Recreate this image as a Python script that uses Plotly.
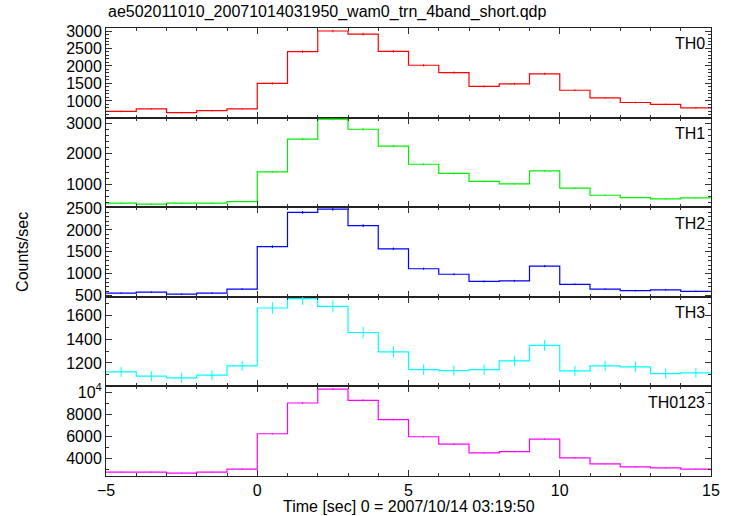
import plotly.graph_objects as go
from plotly.subplots import make_subplots

# bin edges and centers (seconds)
edges = list(range(-5, 16))
centers = [e + 0.5 for e in range(-5, 15)]

th0 = [700, 775, 665, 720, 775, 1500, 2410, 3000, 2910, 2420, 2020, 1810, 1415, 1490, 1775, 1305, 1090, 955, 900, 800]
th0_err = [22, 22, 22, 22, 22, 30, 35, 38, 38, 35, 32, 30, 28, 28, 30, 26, 24, 22, 22, 22]
th1 = [390, 360, 390, 390, 440, 1410, 2480, 3130, 2800, 2250, 1660, 1360, 1100, 1020, 1445, 880, 650, 575, 530, 565]
th1_err = [20, 20, 20, 20, 20, 28, 35, 40, 38, 34, 30, 28, 25, 25, 28, 22, 20, 20, 20, 20]
th2 = [560, 580, 535, 560, 650, 1620, 2400, 2475, 2100, 1570, 1115, 990, 825, 840, 1175, 760, 650, 615, 635, 600]
th2_err = [18, 18, 18, 18, 20, 30, 36, 36, 34, 30, 25, 24, 22, 22, 25, 20, 18, 18, 18, 18]
th3 = [1125, 1089, 1075, 1097, 1175, 1662, 1740, 1675, 1456, 1293, 1144, 1136, 1144, 1217, 1348, 1133, 1175, 1167, 1111, 1117]
th3_err = [42, 42, 42, 42, 43, 50, 52, 50, 48, 46, 43, 43, 43, 44, 46, 43, 43, 43, 42, 42]
th0123 = [2776, 2776, 2690, 2776, 3045, 6240, 9015, 10270, 9250, 7520, 5970, 5310, 4510, 4630, 5760, 4060, 3520, 3250, 3160, 3045]
th0123_err = [50, 50, 50, 50, 55, 75, 90, 95, 90, 80, 72, 68, 62, 62, 70, 60, 55, 52, 52, 50]

names = ["TH0", "TH1", "TH2", "TH3", "TH0123"]
series = [th0, th1, th2, th3, th0123]
errors = [th0_err, th1_err, th2_err, th3_err, th0123_err]
colors = ["#ff0000", "#00ee00", "#0000ff", "#00ffff", "#ff00ff"]

yranges = [[523, 3086], [260, 3180], [475, 2520], [1003, 1756], [2430, 10510]]
ydticks = [500, 1000, 500, 200, 2000]
yminor = [100, 200, 100, 100, 1000]

fig = make_subplots(rows=5, cols=1, shared_xaxes=True, vertical_spacing=0)

font_family = "Liberation Sans, Arial, Helvetica, sans-serif"

for i, (nm, y, err, col) in enumerate(zip(names, series, errors, colors)):
    r = i + 1
    fig.add_trace(go.Scatter(x=edges, y=y + [y[-1]], mode="lines", line_shape="hv",
                             line=dict(color=col, width=1.2), showlegend=False,
                             hoverinfo="skip"), row=r, col=1)
    fig.add_trace(go.Scatter(x=centers, y=y, mode="markers", marker=dict(size=1, color=col, opacity=0),
                             error_y=dict(type="data", array=err, color=col, thickness=1, width=0),
                             showlegend=False), row=r, col=1)
    yk = dict(range=yranges[i], dtick=ydticks[i], ticks="inside", ticklen=6, tickwidth=1,
              tickcolor="#333", showgrid=False, zeroline=False, showline=True, linecolor="#222",
              linewidth=1, mirror="allticks",
              minor=dict(dtick=yminor[i], ticks="inside", ticklen=3, tickcolor="#333"),
              tickfont=dict(size=16, family=font_family, color="#000"))
    if nm == "TH0123":
        yk.pop("dtick")
        yk["tickvals"] = [4000, 6000, 8000, 10000]
        yk["ticktext"] = ["4000", "6000", "8000", "10<sup>4</sup>"]
    fig.update_yaxes(row=r, col=1, **yk)
    fig.update_xaxes(row=r, col=1, range=[-5, 15], dtick=5, ticks="inside", ticklen=6,
                     tickcolor="#333", showgrid=False, zeroline=False, showline=True,
                     linecolor="#222", linewidth=1, mirror="allticks",
                     minor=dict(dtick=1, ticks="inside", ticklen=3, tickcolor="#333"),
                     tickfont=dict(size=16, family=font_family, color="#000"))
    ytop = 1 - i * 0.2
    fig.add_annotation(text=nm, xref="paper", yref="paper", x=0.993, y=ytop - 0.012,
                       xanchor="right", yanchor="top", showarrow=False,
                       font=dict(size=16, family=font_family, color="#000"))

fig.add_annotation(text="ae502011010_20071014031950_wam0_trn_4band_short.qdp",
                   xref="paper", yref="paper", x=0, y=1.036, xanchor="left", yanchor="middle",
                   showarrow=False, font=dict(size=16, family=font_family, color="#000"))
fig.add_annotation(text="Counts/sec", xref="paper", yref="paper", x=-0.139, y=0.5,
                   xanchor="center", yanchor="middle", textangle=-90, showarrow=False,
                   font=dict(size=16, family=font_family, color="#000"))
fig.add_annotation(text="Time [sec] 0 = 2007/10/14 03:19:50", xref="paper", yref="paper",
                   x=0.5, y=-0.068, xanchor="center", yanchor="middle", showarrow=False,
                   font=dict(size=16, family=font_family, color="#000"))

fig.update_layout(width=733, height=516, margin=dict(l=106, r=22, t=28, b=40),
                  plot_bgcolor="white", paper_bgcolor="white", showlegend=False)

# remove the browser's default body margin so the figure fills the window exactly
fig.write_html("out.html", config={"displayModeBar": False},
               post_script="document.body.style.margin='0';document.body.style.overflow='hidden';")
